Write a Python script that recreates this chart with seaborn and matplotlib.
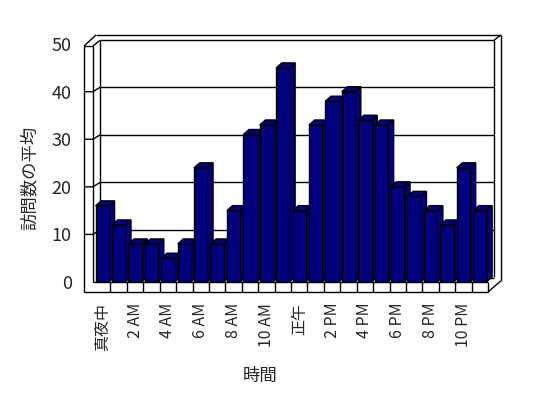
import numpy as np
import pandas as pd
import matplotlib
matplotlib.use("Agg")
import matplotlib.pyplot as plt
import matplotlib.transforms as mtransforms
from matplotlib.patches import Polygon
from matplotlib.lines import Line2D
import seaborn as sns

# ---- data ----
hours = ["真夜中", "1 AM", "2 AM", "3 AM", "4 AM", "5 AM", "6 AM", "7 AM",
         "8 AM", "9 AM", "10 AM", "11 AM", "正午", "1 PM", "2 PM", "3 PM",
         "4 PM", "5 PM", "6 PM", "7 PM", "8 PM", "9 PM", "10 PM", "11 PM"]
visits = [16, 12, 8, 8, 5, 8, 24, 8, 15, 31, 33, 45,
          15, 33, 38, 40, 34, 33, 20, 18, 15, 12, 24, 15]
y_ticks = [0, 10, 20, 30, 40, 50]
x_label = "時間"
y_label = "訪問数の平均"

sns.set_style("white")
plt.rcParams["font.family"] = ["Noto Sans CJK JP", "DejaVu Sans"]

W, H = 548, 398
fig = plt.figure(figsize=(W / 100, H / 100), dpi=100)
fig.patch.set_facecolor("white")

# front plane of plot (pixels, y down)
FL, FR, F0, F50 = 94.0, 488.0, 282.0, 44.1
ax = fig.add_axes([FL / W, (H - F0) / H, (FR - FL) / W, (F0 - F50) / H])
ax.patch.set_visible(False)
for s in ax.spines.values():
    s.set_visible(False)

df = pd.DataFrame({"hour": hours, "visits": visits})
sns.barplot(data=df, x="hour", y="visits", color="#000080", saturation=1,
            width=0.81, edgecolor="black", linewidth=1, ax=ax)
ax.set_autoscale_on(False)
ax.set_xlim(-0.5, len(hours) - 0.5)
ax.set_ylim(0, 50)

px_per_cat = (FR - FL) / len(hours)
px_per_unit = (F0 - F50) / 50.0

# pseudo-3D faces for each bar
ddx = 5.7 / px_per_cat
ddy = 5.0 / px_per_unit
for i, p in enumerate(ax.patches):
    x0, w, h = p.get_x(), p.get_width(), p.get_height()
    base = 10 + 3 * i
    p.set_zorder(base + 2)
    top = Polygon([(x0, h), (x0 + w, h), (x0 + w + ddx, h + ddy), (x0 + ddx, h + ddy)],
                  closed=True, facecolor="#000080", edgecolor="black", lw=1,
                  zorder=base + 1, clip_on=False)
    side = Polygon([(x0 + w, 0), (x0 + w + ddx, ddy), (x0 + w + ddx, h + ddy), (x0 + w, h)],
                   closed=True, facecolor="#000080", edgecolor="black", lw=1,
                   zorder=base, clip_on=False)
    ax.add_patch(top)
    ax.add_patch(side)

# pixel-coordinate transform (image pixels, y down)
T = mtransforms.Affine2D().scale(1, -1).translate(0, H)

def seg(xs, ys, z=1):
    ax.add_line(Line2D(xs, ys, transform=T, color="black", lw=1,
                       clip_on=False, zorder=z, solid_capstyle="butt"))

BACK_DY = -4.4
# gridlines on back wall + ticks on left wall
for v in y_ticks:
    yf = F0 - v * px_per_unit
    yb = yf + BACK_DY
    if 0 < v < 50:
        seg([84, 93, 100], [yf, yf, yb])
    seg([100, 494], [yb, yb])

# left wall
seg([84, 84], [46, 292])
seg([93, 93], [46, 282])
seg([100, 100], [40.3, 278])
seg([84, 93], [46, 46])
seg([84, 96], [46, 35])
seg([93, 100], [46, 40.3])
# back wall top / right
seg([96, 500.7], [35, 35])
seg([494, 500.7], [40.3, 35])
seg([494, 494], [40.3, 277])
seg([500.7, 500.7], [35, 281])
# floor
seg([84, 488], [292, 292], z=60)
seg([93, 488], [282, 282], z=60)
seg([488, 488], [282, 292], z=60)
seg([488, 500.7], [292, 281], z=60)
for k in range(1, len(hours)):
    xk = FL + k * px_per_cat
    seg([xk, xk], [282, 292], z=60)

# tick labels
ax.set_yticks(y_ticks)
ax.set_yticklabels([str(v) for v in y_ticks], fontsize=13)
ax.set_xticks(range(0, len(hours), 2))
ax.set_xticklabels(hours[::2], rotation=90, fontsize=11.5)
ax.tick_params(axis="y", length=0, pad=16)
ax.tick_params(axis="x", length=0, pad=15)
ax.set_xlabel("")
ax.set_ylabel("")

fig.text(30 / W, 1 - 178 / H, y_label, rotation=90, ha="center", va="center", fontsize=12.5)
fig.text(260 / W, 1 - 376 / H, x_label, ha="center", va="center", fontsize=12.5)

fig.savefig("out.png", dpi=100, facecolor="white")
